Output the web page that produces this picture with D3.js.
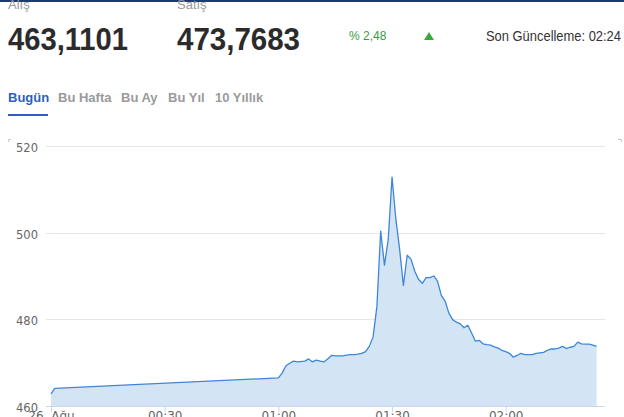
<!DOCTYPE html>
<html><head><meta charset="utf-8">
<script src="https://cdn.jsdelivr.net/npm/d3@7/dist/d3.min.js"></script>
<style>
body{margin:0;background:#fff;overflow:hidden}
svg{display:block;font-family:"Liberation Sans",Arial,sans-serif}
</style>
</head><body>
<svg id="c" width="624" height="417"></svg>
<script>
// ---- data ----
const times = ["00:00","00:01","01:00","01:01","01:02","01:03","01:04","01:05","01:07","01:08","01:09","01:10","01:11","01:12","01:13","01:14","01:15","01:17","01:18","01:19","01:20","01:21","01:22","01:23","01:24","01:25","01:26","01:27","01:28","01:29","01:30","01:31","01:32","01:33","01:34","01:35","01:36","01:37","01:38","01:39","01:40","01:41","01:42","01:43","01:44","01:45","01:46","01:47","01:48","01:49","01:50","01:51","01:52","01:53","01:54","01:55","01:56","01:57","01:58","01:59","02:00","02:01","02:02","02:03","02:04","02:05","02:06","02:07","02:08","02:09","02:10","02:11","02:12","02:13","02:14","02:15","02:16","02:17","02:18","02:19","02:20","02:21","02:22","02:23","02:24"];
const values = [462.8,464.1,466.5,467.6,469.3,469.9,470.4,470.2,470.4,470.9,470.2,470.6,470.4,470.2,470.9,471.7,471.6,471.6,471.8,471.9,471.9,472.0,472.2,472.6,473.8,476.0,483.0,500.5,492.6,498.6,513.0,503.3,496.3,487.9,494.9,494.0,491.2,489.3,488.4,489.7,489.7,490.1,488.9,485.6,484.3,481.5,480.0,479.4,479.0,478.1,478.7,476.9,475.0,475.2,474.4,474.2,474.1,473.7,473.4,472.9,472.6,472.2,471.3,471.7,472.2,471.9,471.9,471.9,472.2,472.3,472.4,472.9,473.2,473.2,473.4,473.8,473.3,473.6,473.8,474.8,474.4,474.3,474.3,474.1,473.8];
const yTicks = [460,480,500,520];
const xTickTimes = ["00:00","00:30","01:00","01:30","02:00"];
const xTickLabels = ["26. Ağu","00:30","01:00","01:30","02:00"];
const tabs = ["Bugün","Bu Hafta","Bu Ay","Bu Yıl","10 Yıllık"];
const header = {buyLabel:"Alış", buy:"463,1101", sellLabel:"Satış", sell:"473,7683", change:"% 2,48", updated:"Son Güncelleme: 02:24"};

const toMin = s => { const [h,m] = s.split(":").map(Number); return h*60+m; };
const data = times.map((t,i)=>({m:toMin(t), v:values[i]}));

const svg = d3.select("#c");

// top border
svg.append("rect").attr("x",0).attr("y",0).attr("width",624).attr("height",2).attr("fill","#1d3b6f");

// header
svg.append("text").attr("x",8).attr("y",9).attr("font-size",13).attr("fill","#999").text(header.buyLabel);
svg.append("text").attr("x",177).attr("y",9).attr("font-size",13).attr("fill","#999").text(header.sellLabel);
svg.append("text").attr("x",8).attr("y",50).attr("font-size",32).attr("font-weight","bold").attr("fill","#2b2b2b")
  .attr("textLength",120).attr("lengthAdjust","spacingAndGlyphs").text(header.buy);
svg.append("text").attr("x",177).attr("y",50).attr("font-size",32).attr("font-weight","bold").attr("fill","#2b2b2b")
  .attr("textLength",123).attr("lengthAdjust","spacingAndGlyphs").text(header.sell);
svg.append("text").attr("x",349).attr("y",40).attr("font-size",12).attr("fill","#3c9a3c").text(header.change);
svg.append("path").attr("d","M424,40L429,32L434,40Z").attr("fill","#3aa83a");
svg.append("text").attr("x",486).attr("y",41).attr("font-size",14).attr("fill","#333")
  .attr("textLength",135).attr("lengthAdjust","spacingAndGlyphs").text(header.updated);

// tabs
const tabX = [8,58,121,168,215];
tabs.forEach((t,i)=>{
  svg.append("text").attr("x",tabX[i]).attr("y",102).attr("font-size",13).attr("font-weight","bold")
    .attr("fill", i===0 ? "#2f5fb8" : "#9a9a9a").text(t);
});
svg.append("rect").attr("x",8).attr("y",114).attr("width",40).attr("height",2).attr("fill","#2f5fbf");

// corner marks
svg.append("path").attr("d","M8.5,142V139.5H11").attr("stroke","#c8c8c8").attr("fill","none");
svg.append("path").attr("d","M618,139.5H621.5V142").attr("stroke","#c8c8c8").attr("fill","none");

// scales
const x = d3.scaleLinear().domain([-1.32,146.2]).range([46,605]);
const y = d3.scaleLinear().domain([460,520]).range([406,146.8]);

// grid
svg.append("g").selectAll("line").data(yTicks.filter(t=>t!==460)).join("line")
  .attr("x1",46).attr("x2",605).attr("y1",d=>y(d)).attr("y2",d=>y(d))
  .attr("stroke","#e6e6e6").attr("stroke-width",1).attr("shape-rendering","crispEdges");

// area + line
svg.append("path").datum(data)
  .attr("d", d3.area().x(d=>x(d.m)).y0(y(460)).y1(d=>y(d.v)))
  .attr("fill","#d3e5f4");
svg.append("path").datum(data)
  .attr("d", d3.line().x(d=>x(d.m)).y(d=>y(d.v)))
  .attr("fill","none").attr("stroke","#3d86d8").attr("stroke-width",1.3).attr("stroke-linejoin","round");

// y axis
const ya = svg.append("g").attr("transform","translate(38,0)")
  .call(d3.axisLeft(y).tickValues(yTicks).tickSize(0).tickPadding(0).tickFormat(d3.format("d")));
ya.select(".domain").remove();
ya.selectAll("text").attr("fill","#666").attr("font-family","'DejaVu Sans',sans-serif").attr("dy","0.45em").style("font-size","11.5px");

// x axis
const xa = svg.append("g").attr("transform","translate(0,406)")
  .call(d3.axisBottom(x).tickValues(xTickTimes.map(toMin)).tickSize(6).tickPadding(3)
    .tickFormat((d,i)=>xTickLabels[i]));
xa.select(".domain").attr("d","M46,0.5H605").attr("stroke","#ccd6eb");
xa.selectAll(".tick line").attr("stroke","#ccd6eb");
xa.selectAll("text").attr("fill","#666").attr("font-family","'DejaVu Sans',sans-serif").style("font-size","12px").attr("y",5);
</script>
</body></html>
